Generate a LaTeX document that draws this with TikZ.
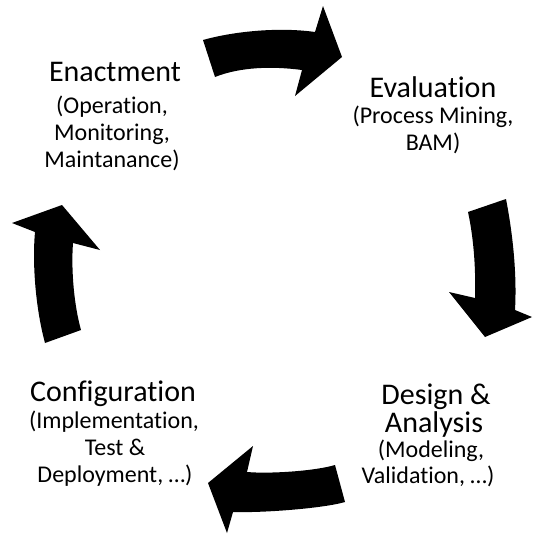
\documentclass[tikz,border=0pt]{standalone}
\usepackage{fontspec}
\setmainfont[Ligatures=NoCommon]{Carlito}
\begin{document}
\begin{tikzpicture}[x=1pt,y=-1pt,
  bigtxt/.style={anchor=base,inner sep=0pt,font=\fontsize{30}{30}\selectfont},
  smalltxt/.style={anchor=base,inner sep=0pt,font=\fontsize{24}{24}\selectfont},
  arrowshape/.style={fill=black,draw=none}]
\useasboundingbox (0,0) rectangle (533,536);
% top arrow
\fill[arrowshape] (203,40) .. controls (235,31) and (280,27) .. (315,32)
  -- (323,6) -- (342,57) -- (295,96) -- (302,70)
  .. controls (272,66) and (240,67) .. (215,77) -- cycle;
% right arrow
\fill[arrowshape] (468,212) -- (506,199) .. controls (513,235) and (517,275) .. (515,310)
  -- (532,317) -- (485,337) -- (449,292) -- (475,298)
  .. controls (476,265) and (473,235) .. (468,212) -- cycle;
% bottom arrow
\fill[arrowshape] (335,465) -- (345,502) .. controls (325,508) and (265,513) .. (233,512)
  -- (227,533) -- (208,483) -- (253,446) -- (247,472)
  .. controls (270,474) and (315,471) .. (335,465) -- cycle;
% left arrow
\fill[arrowshape] (45,343) -- (81,330) .. controls (74,305) and (71,270) .. (73,243)
  -- (100,250) -- (62,205) -- (12,223) -- (35,232)
  .. controls (32,265) and (36,310) .. (45,343) -- cycle;
% Enactment
\node[bigtxt] (en1) at (115,81) {Enactment};
\node[smalltxt] (en2) at (112,113) {(Operation,};
\node[smalltxt] (en3) at (112,140) {Monitoring,};
\node[smalltxt] (en4) at (112,167) {Maintanance)};
% Evaluation
\node[bigtxt] (ev1) at (433,97) {Evaluation};
\node[smalltxt] (ev2) at (433,123) {(Process Mining,};
\node[smalltxt] (ev3) at (433,150) {BAM)};
% Configuration
\node[bigtxt] (co1) at (113,401) {Configuration};
\node[smalltxt] (co2) at (114,428) {(Implementation,};
\node[smalltxt] (co3) at (115,455) {Test \&};
\node[smalltxt] (co4) at (115,482) {Deployment, …)};
% Design & Analysis
\node[bigtxt] (de1) at (436,404) {Design \&};
\node[bigtxt] (de2) at (434,432) {Analysis};
\node[smalltxt] (de3) at (431,457) {(Modeling,};
\node[smalltxt] (de4) at (428,483) {Validation, …)};
\end{tikzpicture}
\end{document}
